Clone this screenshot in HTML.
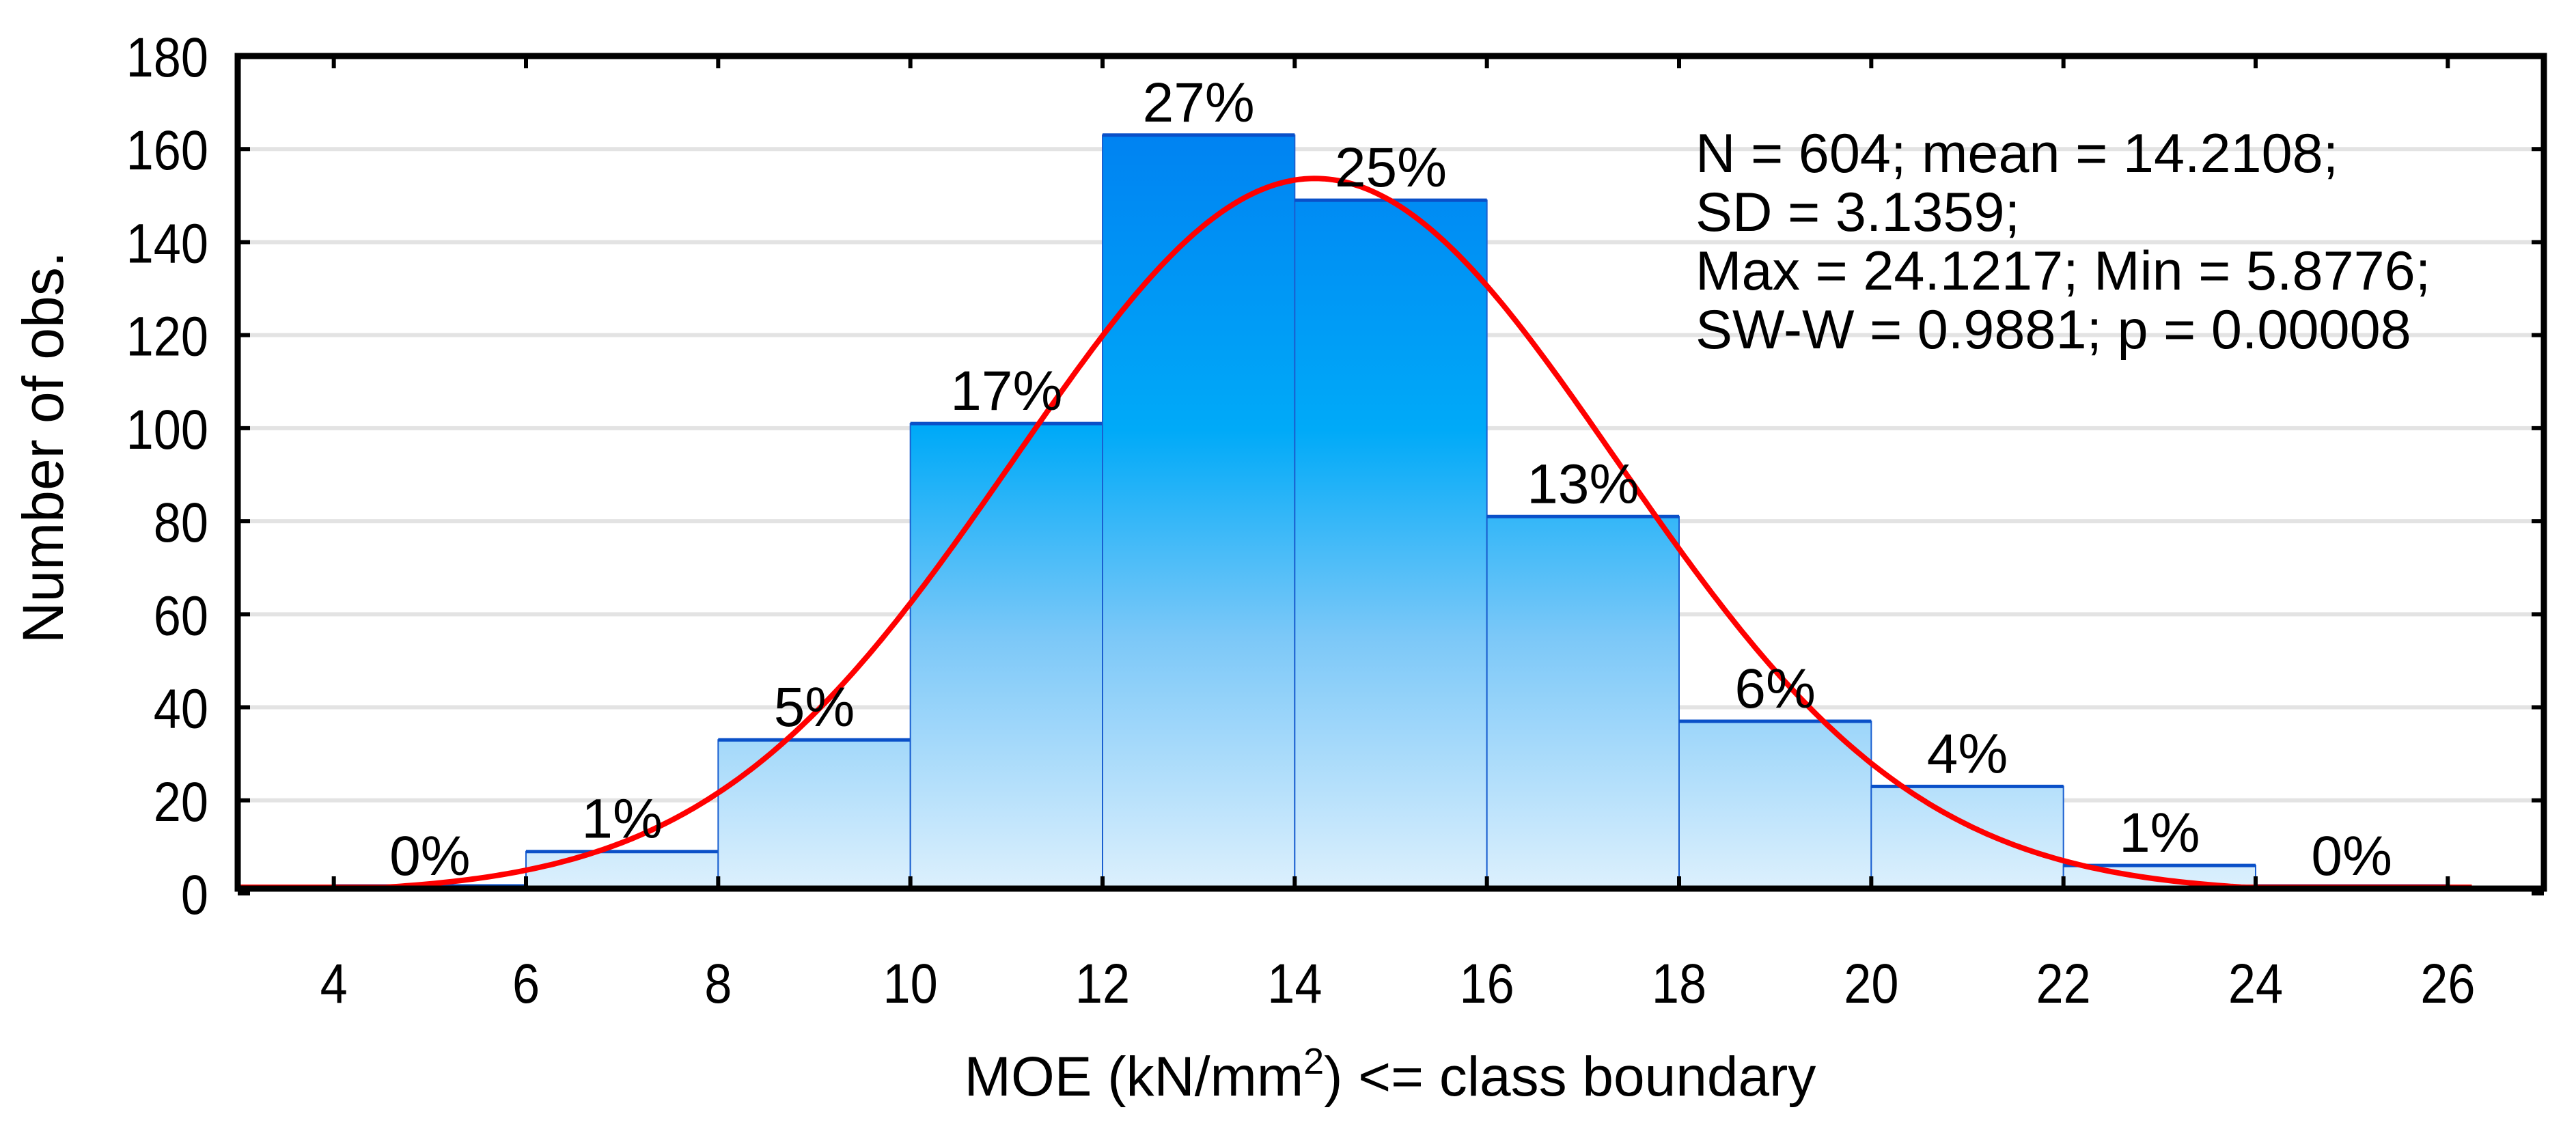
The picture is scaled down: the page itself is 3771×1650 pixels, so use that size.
<!DOCTYPE html>
<html><head><meta charset="utf-8"><style>
html,body{margin:0;padding:0;background:#fff;}
svg{display:block;font-family:"Liberation Sans",Arial,sans-serif;}
</style></head><body>
<svg id="chart" width="3771" height="1650" viewBox="0 0 3771 1650" xmlns="http://www.w3.org/2000/svg">
<defs>
<linearGradient id="barGrad" gradientUnits="userSpaceOnUse" x1="0" y1="82" x2="0" y2="1300">
<stop offset="0" stop-color="#0078f0"/>
<stop offset="0.45" stop-color="#00aaf8"/>
<stop offset="0.7" stop-color="#7cc8f8"/>
<stop offset="1" stop-color="#dcf0fd"/>
</linearGradient>
<clipPath id="plotClip"><rect x="348" y="82" width="3376" height="1218"/></clipPath>
</defs>
<g id="grid"></g>
<g id="bars"></g>
<g id="curve"></g>
<g id="labels"></g>
<g id="axes"></g>
<g font-size="81" fill="#000">
<text x="2482" y="252">N = 604; mean = 14.2108;</text>
<text x="2482" y="338">SD = 3.1359;</text>
<text x="2482" y="424">Max = 24.1217; Min = 5.8776;</text>
<text x="2482" y="510">SW-W = 0.9881; p = 0.00008</text>
</g>
<text x="0" y="0" transform="translate(92,655) rotate(-90)" text-anchor="middle" font-size="84">Number of obs.</text>
<text x="2035" y="1604" text-anchor="middle" font-size="82">MOE (kN/mm<tspan font-size="54" dy="-32">2</tspan><tspan dy="32">) &lt;= class boundary</tspan></text>
</svg>
<script>
const binStarts = [4,6,8,10,12,14,16,18,20,22,24];
const binWidth = 2;
const counts = [1,9,33,101,163,149,81,37,23,6,1];
const pctLabels = ["0%","1%","5%","17%","27%","25%","13%","6%","4%","1%","0%"];
const xTicks = [4,6,8,10,12,14,16,18,20,22,24,26];
const yTicks = [0,20,40,60,80,100,120,140,160,180];
const nObs = 604, meanVal = 14.2108, sdVal = 3.1359;

const X0=348, X1=3724, XMIN=3, XMAX=27;
const YTOP=82, YZERO=1308, YMAX=180, AXISY=1301;
const sx = v => X0 + (v-XMIN)/(XMAX-XMIN)*(X1-X0);
const sy = v => YZERO - v/YMAX*(YZERO-YTOP);
const NS="http://www.w3.org/2000/svg";
function mk(tag, attrs, parent){const e=document.createElementNS(NS,tag);for(const k in attrs)e.setAttribute(k,attrs[k]);parent.appendChild(e);return e;}

const grid=document.getElementById('grid');
yTicks.forEach(v=>{ if(v===0||v===YMAX) return;
  const l=mk('line',{x1:X0,x2:X1,y1:sy(v),y2:sy(v),stroke:'#e3e3e3','stroke-width':6},grid);
  
  
});

const bars=document.getElementById('bars');
binStarts.forEach((b,i)=>{
  const x=sx(b), w=sx(b+binWidth)-x, top=Math.min(sy(counts[i]),AXISY-4);
  const r=mk('rect',{x:x,y:top,width:w,height:AXISY-top,fill:'url(#barGrad)',stroke:'#1a5fd0','stroke-width':2},bars);
  
  
  const t=mk('line',{x1:x,x2:x+w,y1:top,y2:top,stroke:'#0a50c8','stroke-width':5},bars);
  
  
});

const curveG=document.getElementById('curve');
let d='';
for(let v=XMIN; v<=26.3; v+=0.05){
  const y=nObs*binWidth/(sdVal*Math.sqrt(2*Math.PI))*Math.exp(-0.5*Math.pow((v-meanVal)/sdVal,2));
  d+=(d?'L':'M')+sx(v).toFixed(1)+' '+Math.min(sy(y),AXISY-2).toFixed(1);
}
const p=mk('path',{d:d,fill:'none',stroke:'#ff0000','stroke-width':8,'clip-path':'url(#plotClip)'},curveG);



const lab=document.getElementById('labels');
binStarts.forEach((b,i)=>{
  const t=mk('text',{x:sx(b+binWidth/2),y:Math.min(sy(counts[i]),AXISY)-20,'text-anchor':'middle','font-size':82},lab);
  t.textContent=pctLabels[i];
  
  
});

const ax=document.getElementById('axes');
const frame=mk('rect',{x:X0,y:YTOP,width:X1-X0,height:AXISY-YTOP,fill:'none',stroke:'#000','stroke-width':9},ax);


xTicks.forEach(v=>{
  const x=sx(v);
  const t1=mk('line',{x1:x,x2:x,y1:AXISY,y2:AXISY-18,stroke:'#000','stroke-width':6},ax);
  
  
  const t2=mk('line',{x1:x,x2:x,y1:YTOP,y2:YTOP+18,stroke:'#000','stroke-width':6},ax);
  
  
  const l=mk('text',{x:0,y:0,transform:'translate('+x+',1468) scale(0.88,1)','text-anchor':'middle','font-size':82},ax);
  l.textContent=v;
  
  
});
yTicks.forEach(v=>{
  const y=sy(v);
  const t1=mk('line',{x1:X0,x2:X0+18,y1:y,y2:y,stroke:'#000','stroke-width':6},ax);
  
  
  const t2=mk('line',{x1:X1,x2:X1-18,y1:y,y2:y,stroke:'#000','stroke-width':6},ax);
  
  
  const l=mk('text',{x:0,y:0,transform:'translate(305,'+(y+30)+') scale(0.88,1)','text-anchor':'end','font-size':82},ax);
  l.textContent=v;
  
  
});
</script>
</body></html>
